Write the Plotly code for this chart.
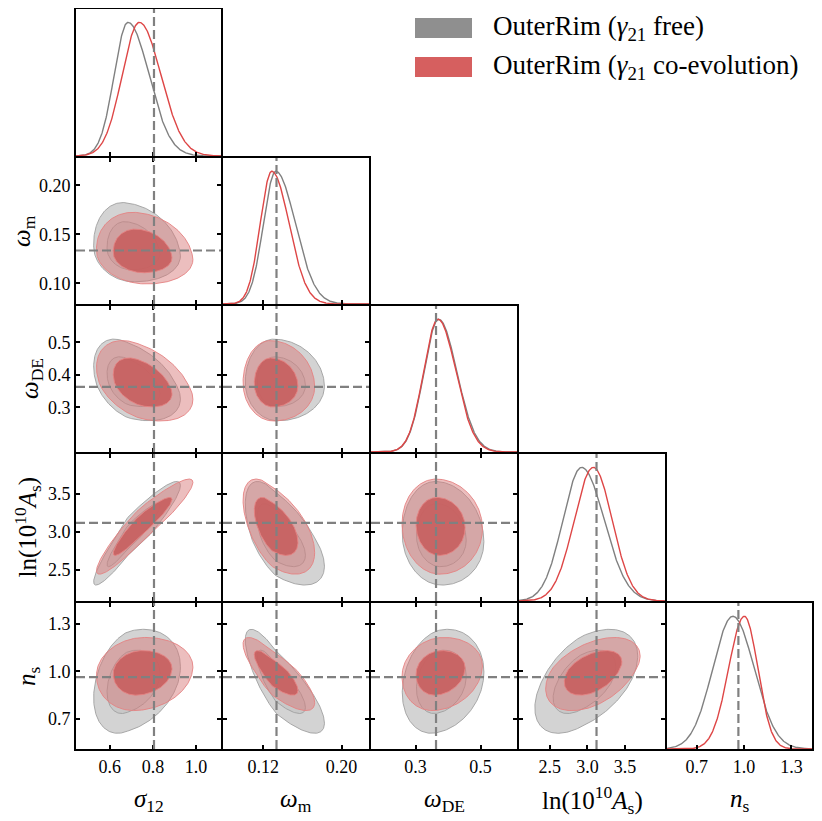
import numpy as np
import plotly.graph_objects as go

# parameters (one per row / column of the triangle)
labels = ["<i>σ</i><sub>12</sub>", "<i>ω</i><sub>m</sub>", "<i>ω</i><sub>DE</sub>",
          "ln(10<sup>10</sup><i>A</i><sub>s</sub>)", "<i>n</i><sub>s</sub>"]
truth = [0.805, 0.1336, 0.363, 3.12, 0.964]
ranges = [[0.443, 1.116], [0.079, 0.228], [0.163, 0.612], [2.09, 4.03], [0.512, 1.43]]
x_tickvals = [[0.6, 0.8, 1.0], [0.12, 0.20], [0.3, 0.5], [2.5, 3.0, 3.5], [0.7, 1.0, 1.3]]
x_ticktext = [["0.6", "0.8", "1.0"], ["0.12", "0.20"], ["0.3", "0.5"], ["2.5", "3.0", "3.5"], ["0.7", "1.0", "1.3"]]
y_tickvals = [[], [0.10, 0.15, 0.20], [0.3, 0.4, 0.5], [2.5, 3.0, 3.5], [0.7, 1.0, 1.3]]
y_ticktext = [[], ["0.10", "0.15", "0.20"], ["0.3", "0.4", "0.5"], ["2.5", "3.0", "3.5"], ["0.7", "1.0", "1.3"]]

# the two chains: peak position and left/right widths of each marginal
names = ["OuterRim (<i>γ</i><sub>21</sub> free)", "OuterRim (<i>γ</i><sub>21</sub> co-evolution)"]
free_mode = [0.684, 0.1328, 0.371, 2.922, 0.929]
free_sig_lo = [0.064, 0.0125, 0.045, 0.250, 0.128]
free_sig_hi = [0.098, 0.0200, 0.056, 0.300, 0.135]
coev_mode = [0.737, 0.1288, 0.369, 3.078, 1.002]
coev_sig_lo = [0.080, 0.0118, 0.0445, 0.255, 0.100]
coev_sig_hi = [0.100, 0.0176, 0.0550, 0.250, 0.085]

# correlations of the pairs (row, col) of the lower triangle
pairs = [(1, 0), (2, 0), (2, 1), (3, 0), (3, 1), (3, 2), (4, 0), (4, 1), (4, 2), (4, 3)]
free_rho = [-0.15, -0.40, -0.05, 0.93, -0.60, -0.08, 0.30, -0.80, 0.20, 0.50]
coev_rho = [-0.15, -0.40, -0.05, 0.93, -0.55, -0.05, 0.12, -0.80, 0.15, 0.45]

# styling
line_cols = ["rgb(128,128,128)", "rgb(222,70,70)"]
outer_fill = ["rgba(200,200,200,0.8)", "rgba(215,120,120,0.48)"]
inner_fill = ["rgba(175,175,175,0.3)", "rgba(200,95,95,0.92)"]
edge_cols = ["rgba(160,160,160,0.9)", "rgba(228,130,130,0.9)"]
legend_cols = ["rgb(143,143,143)", "rgb(214,95,95)"]

# the page body adds an 8px margin, so the figure is 8px smaller and shifted
OFF = 8
W, H = 822 - OFF, 821 - OFF
col_px = [75, 222, 370, 518, 666, 813]
row_px = [8, 157, 305, 453, 602, 750]
LW = 2  # frame width; domains leave room so neighbouring frames overlap
FONT = "Liberation Serif"
n = len(labels)


def px_x(p):
    return (p - OFF) / W


def px_y(p):
    return 1 - (p - OFF) / H


def split_scale(d, lo, hi):
    return np.where(d < 0, d * lo, d * hi)


def marginal(mode, lo, hi, rng):
    x = np.linspace(rng[0], rng[1], 400)
    s = np.where(x < mode, lo, hi)
    return x, np.exp(-0.5 * ((x - mode) / s) ** 2)


def contour(mx, lox, hix, my, loy, hiy, rho, r):
    t = np.linspace(0, 2 * np.pi, 240)
    u = r * np.cos(t)
    v = rho * u + np.sqrt(1 - rho ** 2) * r * np.sin(t)
    return mx + split_scale(u, lox, hix), my + split_scale(v, loy, hiy)


series = [(free_mode, free_sig_lo, free_sig_hi, free_rho),
          (coev_mode, coev_sig_lo, coev_sig_hi, coev_rho)]

fig = go.Figure()
layout = {}
k = 0
for i in range(n):
    for j in range(i + 1):
        k += 1
        sfx = "" if k == 1 else str(k)
        xa, ya = "x" + sfx, "y" + sfx
        xdom = [px_x(col_px[j] + LW / 2), px_x(col_px[j + 1] - LW / 2)]
        ydom = [px_y(row_px[i + 1] - LW / 2), px_y(row_px[i] + LW / 2)]
        bottom = i == n - 1
        left = j == 0 and i > 0
        diag = i == j
        layout["xaxis" + sfx] = dict(
            domain=xdom, anchor=ya, range=ranges[j], showgrid=False, zeroline=False,
            showline=True, linecolor="black", linewidth=LW,
            mirror=True if diag else "allticks",
            ticks="inside", ticklen=4, tickwidth=2, tickcolor="black",
            tickvals=x_tickvals[j], ticktext=x_ticktext[j],
            showticklabels=bottom, tickfont=dict(family=FONT, size=18, color="black"))
        if diag:
            layout["yaxis" + sfx] = dict(
                domain=ydom, anchor=xa, range=[0, 1.1], showgrid=False, zeroline=False,
                showline=True, linecolor="black", linewidth=LW, mirror=True,
                ticks="", showticklabels=False)
            for m, (mode, lo, hi, rho) in enumerate(series):
                x, p = marginal(mode[j], lo[j], hi[j], ranges[j])
                fig.add_trace(go.Scatter(x=x, y=p, mode="lines", xaxis=xa, yaxis=ya,
                                         line=dict(color=line_cols[m], width=1.4),
                                         showlegend=False, hoverinfo="skip"))
        else:
            layout["yaxis" + sfx] = dict(
                domain=ydom, anchor=xa, range=ranges[i], showgrid=False, zeroline=False,
                showline=True, linecolor="black", linewidth=LW, mirror="allticks",
                ticks="inside", ticklen=4, tickwidth=2, tickcolor="black",
                tickvals=y_tickvals[i], ticktext=y_ticktext[i],
                showticklabels=left, tickfont=dict(family=FONT, size=18, color="black"))
            p_idx = pairs.index((i, j))
            for m, (mode, lo, hi, rho) in enumerate(series):
                for r, fill in [(2.486, outer_fill[m]), (1.515, inner_fill[m])]:
                    cx, cy = contour(mode[j], lo[j], hi[j], mode[i], lo[i], hi[i], rho[p_idx], r)
                    fig.add_trace(go.Scatter(x=cx, y=cy, mode="lines", fill="toself",
                                             fillcolor=fill, xaxis=xa, yaxis=ya,
                                             line=dict(color=edge_cols[m], width=1),
                                             showlegend=False, hoverinfo="skip"))
            # truth value, horizontal
            fig.add_shape(type="line", xref=xa + " domain", yref=ya, x0=0, x1=1,
                          y0=truth[i], y1=truth[i],
                          line=dict(color="rgb(128,128,128)", width=2.2, dash="9px,4px"))
        # truth value, vertical
        fig.add_shape(type="line", xref=xa, yref=ya + " domain", x0=truth[j], x1=truth[j],
                      y0=0, y1=1, line=dict(color="rgb(128,128,128)", width=2.2, dash="9px,4px"))

# axis titles
annotations = []
for j in range(n):
    annotations.append(dict(text=labels[j], xref="paper", yref="paper",
                            x=px_x((col_px[j] + col_px[j + 1]) / 2), y=px_y(800),
                            xanchor="center", yanchor="middle", showarrow=False,
                            font=dict(family=FONT, size=25, color="black")))
y_title_x = [0, 23, 31, 27, 28]
for i in range(1, n):
    annotations.append(dict(text=labels[i], xref="paper", yref="paper",
                            x=px_x(y_title_x[i]), y=px_y((row_px[i] + row_px[i + 1]) / 2),
                            xanchor="center", yanchor="middle", textangle=-90, showarrow=False,
                            font=dict(family=FONT, size=25, color="black")))

# legend drawn by hand (big colour patches)
for m in range(2):
    y0 = 18 + m * 39
    fig.add_shape(type="rect", xref="paper", yref="paper",
                  x0=px_x(415), x1=px_x(472), y0=px_y(y0 + 20), y1=px_y(y0),
                  fillcolor=legend_cols[m], line=dict(width=0))
    annotations.append(dict(text=names[m], xref="paper", yref="paper",
                            x=px_x(491), y=px_y(y0 + 10), xanchor="left", yanchor="middle",
                            showarrow=False, font=dict(family=FONT, size=27, color="black")))

fig.update_layout(width=W, height=H, margin=dict(l=0, r=0, t=0, b=0),
                  plot_bgcolor="white", paper_bgcolor="white",
                  showlegend=False, annotations=annotations, **layout)
fig.write_html("out.html")
